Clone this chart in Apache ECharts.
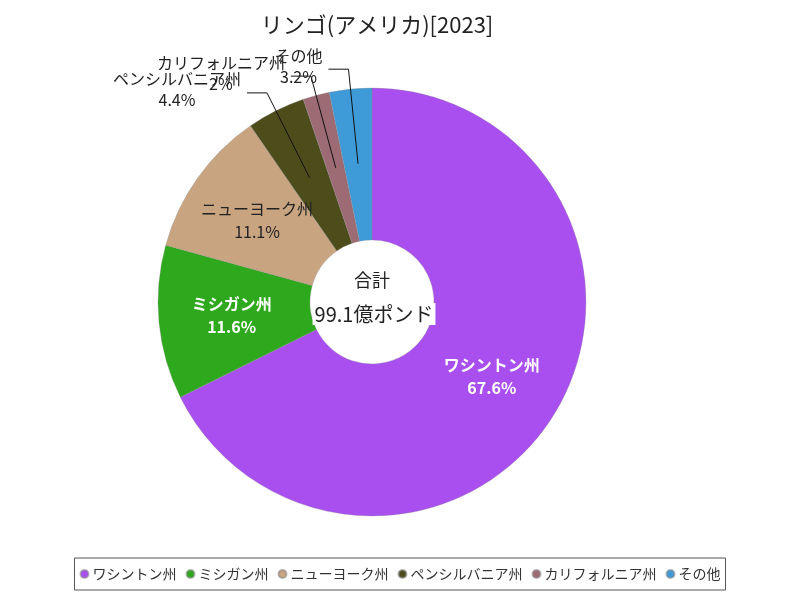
<!DOCTYPE html>
<html>
<head>
<meta charset="utf-8">
<script src="https://cdn.jsdelivr.net/npm/echarts@6/dist/echarts.min.js"></script>
<style>html,body{margin:0;padding:0;background:#fff}#c{width:800px;height:600px}</style>
</head>
<body>
<div id="c"></div>
<script>
const categories = ['ワシントン州', 'ミシガン州', 'ニューヨーク州', 'ペンシルバニア州', 'カリフォルニア州', 'その他'];
const shares = [67.6, 11.6, 11.1, 4.4, 2, 3.2];
const totalValue = 99.1;
const totalUnit = '億ポンド';
const titleText = 'リンゴ(アメリカ)[2023]';

const colors = ['#a94fef', '#2ea81c', '#c8a480', '#4d4d1c', '#9c6b74', '#3e9bd8'];
const FONT = '"Noto Sans CJK JP", sans-serif';
const CX = 372, CY = 302;
const insideCount = 3;

const insideLabelStyle = [
  { color: '#fff', fontWeight: 'bold' },
  { color: '#fff', fontWeight: 'bold' },
  { color: '#222', fontWeight: 'normal' }
];

const mainData = categories.map((name, i) => ({
  name, value: shares[i],
  itemStyle: { color: colors[i] },
  label: i < insideCount ? Object.assign({ show: true }, insideLabelStyle[i]) : { show: false }
}));

const outerData = categories.map((name, i) => ({
  name, value: shares[i],
  itemStyle: { color: 'rgba(0,0,0,0)' },
  label: { show: i >= insideCount },
  labelLine: { show: i >= insideCount }
}));

const chart = echarts.init(document.getElementById('c'), null, { renderer: 'canvas' });
chart.setOption({
  animation: false,
  textStyle: { fontFamily: FONT },
  title: [
    { text: titleText, left: CX, top: 9, textAlign: 'center',
      textStyle: { fontFamily: FONT, fontSize: 22, fontWeight: 'normal', color: '#222', letterSpacing: 1 } },
    { text: '合計', left: CX, top: CY - 31, textAlign: 'center', padding: 0,
      textStyle: { fontFamily: FONT, fontSize: 18, fontWeight: 'normal', color: '#222' } },
    { text: totalValue + totalUnit, left: CX, top: CY + 1, textAlign: 'center',
      backgroundColor: '#fff', padding: [1, 2],
      textStyle: { fontFamily: FONT, fontSize: 20, fontWeight: 'normal', color: '#222' } }
  ],
  legend: {
    data: categories,
    bottom: 10, left: 'center',
    icon: 'circle', itemWidth: 8, itemHeight: 8, itemGap: 9,
    borderColor: '#555', borderWidth: 1, padding: [9, 5],
    textStyle: { fontFamily: FONT, fontSize: 14, color: '#333', padding: [0, 0, 0, -1] }
  },
  series: [
    {
      type: 'pie', center: [CX, CY], radius: [62, 214], startAngle: 90, clockwise: true,
      avoidLabelOverlap: false, silent: true, z: 1,
      itemStyle: { borderColor: 'rgba(140,140,140,0.6)', borderWidth: 0.5 },
      label: {
        position: 'inside', fontFamily: FONT, fontSize: 16, lineHeight: 23,
        formatter: p => p.name + '\n' + shares[p.dataIndex] + '%'
      },
      labelLine: { show: false },
      data: mainData
    },
    {
      type: 'pie', center: [CX, CY], radius: [0, 139], startAngle: 90, clockwise: true,
      avoidLabelOverlap: false, silent: true, z: 3,
      itemStyle: { borderWidth: 0 },
      label: {
        position: 'outside', fontFamily: FONT, fontSize: 16, lineHeight: 21, color: '#222',
        formatter: p => p.name + '\n' + shares[p.dataIndex] + '%'
      },
      labelLine: { length: 95, length2: 20, lineStyle: { color: '#111', width: 1 } },
      labelLayout: function (p) {
        const pts = p.labelLinePoints;
        if (!pts) return {};
        const end = pts[pts.length - 1];
        return {
          x: end[0] - 6 - p.labelRect.width / 2,
          y: end[1] - 3,
          align: 'center', verticalAlign: 'middle',
          labelLinePoints: pts,
          hideOverlap: false, moveOverlap: null
        };
      },
      data: outerData
    }
  ]
});
</script>
</body>
</html>
